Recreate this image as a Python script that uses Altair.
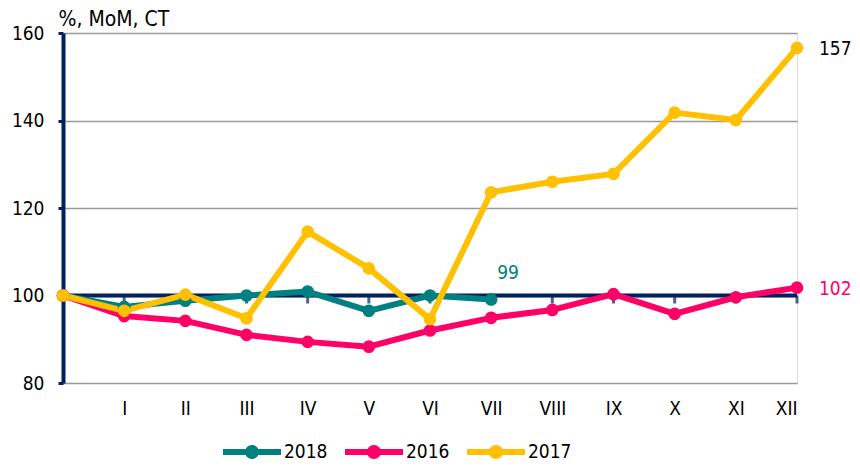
import altair as alt
import pandas as pd

months = ["", "I", "II", "III", "IV", "V", "VI", "VII", "VIII", "IX", "X", "XI", "XII"]
series_names = ["2018", "2016", "2017"]
series_colors = ["#008080", "#FF0066", "#FFC000"]
label_colors = ["#008080", "#FF0066", "#000000"]

v2018 = [100, 97.4, 98.8, 100.0, 100.9, 96.5, 100.0, 99.1]
v2016 = [100, 95.3, 94.2, 91.0, 89.4, 88.3, 92.0, 94.9, 96.7, 100.3, 95.8, 99.6, 101.8]
v2017 = [100, 96.5, 100.2, 94.8, 114.6, 106.2, 94.6, 123.6, 126.0, 127.8, 141.8, 140.1, 156.6]

y_ticks = [80, 100, 120, 140, 160]

NAVY = "#002060"
FONT = "DejaVu Sans Condensed, Noto Sans, sans-serif"
FS = 19

rows = []
labels = []
for k, (name, vals) in enumerate(zip(series_names, [v2018, v2016, v2017])):
    for i, v in enumerate(vals):
        rows.append({"series": name, "col": series_colors[k], "pos": i,
                     "month": months[i], "value": v, "k": k})
    labels.append({"series": name, "pos": len(vals) - 1, "value": vals[-1],
                   "text": str(int(round(vals[-1]))), "tcolor": label_colors[k]})
df = pd.DataFrame(rows)
lab = pd.DataFrame(labels)
tick_df = pd.DataFrame({"pos": list(range(1, len(months)))})

label_expr = "[" + ",".join("'" + m + "'" for m in months) + "][datum.value]"

x_enc = alt.X("pos:Q",
              scale=alt.Scale(domain=[0, len(months) - 1], nice=False, zero=False),
              axis=alt.Axis(values=list(range(1, len(months))), labelExpr=label_expr,
                            grid=False, domain=False, ticks=False, labelFontSize=FS,
                            labelColor="black", labelPadding=16, title=None,
                            labelFont=FONT))
y_enc = alt.Y("value:Q",
              scale=alt.Scale(domain=[80, 160], nice=False, zero=False),
              axis=alt.Axis(values=y_ticks, grid=True, gridColor="#999999", gridWidth=1.5,
                            domainColor=NAVY, domainWidth=4, tickColor=NAVY, tickWidth=3,
                            tickSize=5, labelFontSize=FS, labelColor="black", labelPadding=14,
                            labelFont=FONT,
                            title="%, MoM, CT", titleAngle=0, titleX=-5, titleY=-8,
                            titleAlign="left", titleBaseline="alphabetic",
                            titleFontWeight="normal", titleFontSize=21, titleFont=FONT,
                            titleColor="black"))

legend_path = ("M-1,-0.1 L1,-0.1 L1,0.1 L-1,0.1 Z "
               "M0.24,0 A0.24,0.24 0 1,1 -0.24,0 A0.24,0.24 0 1,1 0.24,0 Z")

base = alt.Chart(df)

zero_line = alt.Chart(pd.DataFrame({"v": [100]})).mark_rule(
    color=NAVY, strokeWidth=4).encode(
    y=alt.Y("v:Q"),
    x=alt.datum(0), x2=alt.datum(len(months) - 1))

ticks = alt.Chart(tick_df).mark_tick(
    color=NAVY, orient="vertical", size=8, thickness=3, yOffset=4).encode(
    x="pos:Q", y=alt.datum(100))

lines = base.mark_line(strokeWidth=6, strokeJoin="round", strokeCap="round").encode(
    x=x_enc, y=y_enc,
    stroke=alt.Stroke("col:N", scale=None),
    detail="series:N", order="pos:Q")

points = base.mark_circle(size=160, opacity=1).encode(
    x="pos:Q", y="value:Q",
    fill=alt.Fill("series:N", scale=alt.Scale(domain=series_names, range=series_colors),
                  legend=alt.Legend(title=None, orient="none", direction="horizontal",
                                    legendX=160, legendY=390,
                                    symbolType=legend_path, symbolSize=3364,
                                    symbolStrokeWidth=0, symbolOpacity=1,
                                    labelFontSize=FS, labelFont=FONT, labelColor="black",
                                    labelOffset=3, columnPadding=17)),
    order="k:Q")

lab_top = alt.Chart(lab).transform_filter(alt.datum.series == "2018").mark_text(
    align="left", baseline="middle", dx=6, dy=-26, fontSize=FS, font=FONT).encode(
    x="pos:Q", y="value:Q", text="text:N", color=alt.Color("tcolor:N", scale=None))

lab_right = alt.Chart(lab).transform_filter(alt.datum.series != "2018").mark_text(
    align="left", baseline="middle", dx=22, dy=1, fontSize=FS, font=FONT).encode(
    x="pos:Q", y="value:Q", text="text:N", color=alt.Color("tcolor:N", scale=None))

chart = alt.layer(zero_line, ticks, lines, points, lab_top, lab_right).properties(
    width=734, height=350,
    autosize=alt.AutoSizeParams(type="none"),
    padding={"left": 55, "top": 25, "right": 55, "bottom": 80},
).configure_view(stroke=None).configure(font=FONT)

chart.save("out.html", embed_options={"renderer": "svg", "actions": False})
